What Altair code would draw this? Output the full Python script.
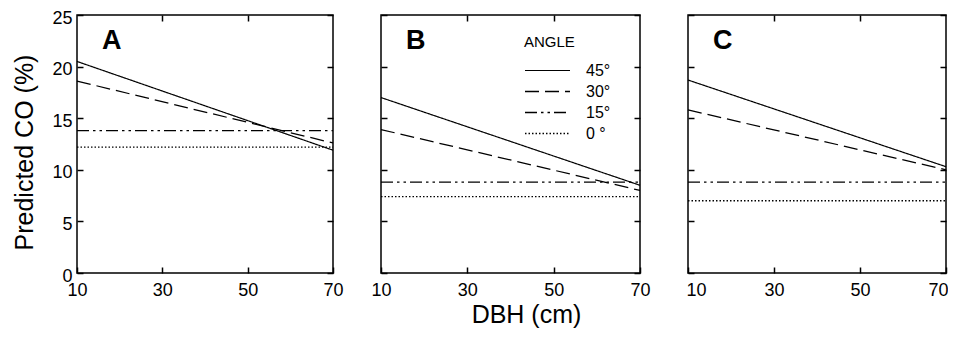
import altair as alt
import pandas as pd

# ---- data ----
dbh = [10, 70]
angles = ["45°", "30°", "15°", "0 °"]
panels = ["A", "B", "C"]

a_45 = [20.5, 11.9]
a_30 = [18.6, 12.6]
a_15 = [13.8, 13.8]
a_0 = [12.2, 12.2]

b_45 = [17.0, 8.5]
b_30 = [13.9, 8.0]
b_15 = [8.8, 8.8]
b_0 = [7.4, 7.4]

c_45 = [18.7, 10.3]
c_30 = [15.8, 10.0]
c_15 = [8.8, 8.8]
c_0 = [7.0, 7.0]

x_ticks = [10, 30, 50, 70]
x_top_ticks = [30, 50]
y_ticks = [0, 5, 10, 15, 20, 25]

series = {
    "A": [a_45, a_30, a_15, a_0],
    "B": [b_45, b_30, b_15, b_0],
    "C": [c_45, c_30, c_15, c_0],
}

rows = []
for p in panels:
    for ang, vals in zip(angles, series[p]):
        for x, v in zip(dbh, vals):
            rows.append({"panel": p, "angle": ang, "dbh": x, "co": v})
df = pd.DataFrame(rows)

# ---- styles ----
FONT = "Liberation Sans"
H = 258
widths = {"A": 256, "B": 259, "C": 258}
dash_styles = [[1, 0], [14, 6], [12, 4, 2.5, 4, 2.5, 4], [1.5, 2]]
width_styles = [1.2, 1.4, 1.9, 1.3]

xscale = alt.Scale(domain=[10, 70], nice=False, zero=False)
yscale = alt.Scale(domain=[0, 25], nice=False, zero=True)

legend = alt.Legend(
    title="ANGLE", orient="none", legendX=447, legendY=20,
    symbolType="stroke", symbolSize=2025, symbolStrokeColor="black",
    clipHeight=21, rowPadding=0, labelOffset=15,
    titleFont=FONT, titleFontSize=15, titleFontWeight="normal", titleColor="black",
    labelFont=FONT, labelFontSize=16, labelColor="black", titlePadding=10,
)

tick_common = dict(tickSize=6, offset=-6, domain=False, tickColor="black",
                   tickWidth=1.5, grid=False)


def panel(p, first, middle, last):
    d = df[df.panel == p]
    base = alt.Chart(d)

    xax = dict(orient="bottom", values=x_ticks, labelPadding=8, **tick_common)
    if last:
        xax.update(labelFlush=True, labelFlushOffset=2)
    else:
        xax.update(labelFlush=False)
    if middle:
        xax.update(title="DBH (cm)", titlePadding=3, titleX=145)
    else:
        xax.update(title=None)
    yax = dict(orient="left", values=y_ticks, labels=first, labelPadding=5, labelOffset=3,
               labelFlush=False, **tick_common)
    if first:
        yax.update(title="Predicted CO (%)", titlePadding=14, titleY=137)
    else:
        yax.update(title=None)

    lines = base.mark_line(color="black").encode(
        x=alt.X("dbh:Q", scale=xscale, axis=alt.Axis(**xax)),
        y=alt.Y("co:Q", scale=yscale, axis=alt.Axis(**yax)),
        strokeDash=alt.StrokeDash("angle:N", scale=alt.Scale(domain=angles, range=dash_styles),
                                  legend=legend),
        strokeWidth=alt.StrokeWidth("angle:N", scale=alt.Scale(domain=angles, range=width_styles),
                                    legend=legend),
    )

    mirror = base.mark_point(opacity=0).encode(
        x=alt.X("dbh:Q", scale=xscale,
                axis=alt.Axis(orient="top", values=x_top_ticks, labels=False, title=None,
                              labelFlush=False, **tick_common)),
        y=alt.Y("co:Q", scale=yscale,
                axis=alt.Axis(orient="right", values=y_ticks, labels=False, title=None,
                              labelFlush=False, **tick_common)),
    )

    lab = alt.Chart(pd.DataFrame({"panel": [p]})).mark_text(
        align="left", baseline="middle", font=FONT, fontSize=27, fontWeight="bold", color="black"
    ).encode(text="panel:N", x=alt.value(25), y=alt.value(26))

    return alt.layer(lines, mirror, lab).resolve_axis(x="independent", y="independent").properties(
        width=widths[p], height=H)


chart = alt.hconcat(
    panel("A", True, False, False), panel("B", False, True, False), panel("C", False, False, True),
    spacing=48, bounds="flush",
).properties(
    autosize=alt.AutoSizeParams(type="none"),
    padding={"left": 69, "top": 7, "right": 871, "bottom": 313},
).configure_view(
    stroke="black", strokeWidth=1.5
).configure_axis(
    labelFont=FONT, labelFontSize=18, labelColor="black",
    titleFont=FONT, titleFontSize=25, titleFontWeight="normal", titleColor="black",
)

chart.save("out.html", embed_options={"renderer": "svg", "actions": False})
